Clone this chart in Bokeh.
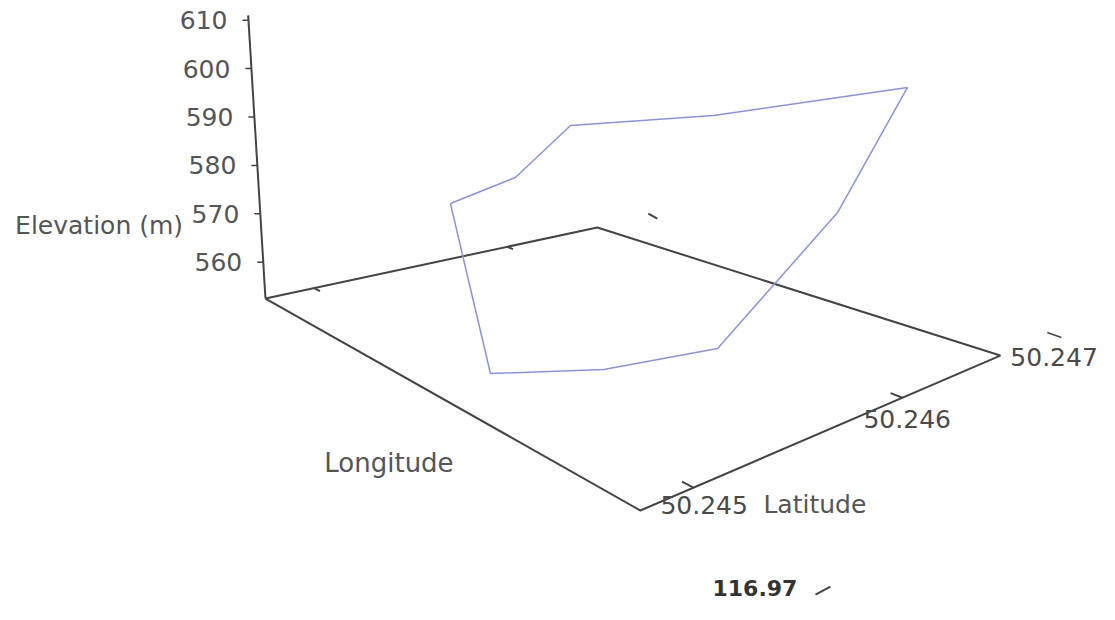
import numpy as np
from bokeh.plotting import figure
from bokeh.models import Range1d
from bokeh.embed import file_html
from bokeh.resources import INLINE
from bokeh.core.properties import value

# ---- data: recorded track (closed loop) ----
longitude = [116.969413, 116.969596, 116.969689, 116.970215, 116.970823,
             116.970511, 116.970518, 116.970203, 116.969899, 116.969413]
latitude = [50.245238, 50.245380, 50.245589, 50.245855, 50.246507,
            50.246343, 50.245465, 50.245221, 50.245019, 50.245238]
elevation = [575, 582, 592, 600, 609, 580, 562, 556, 553, 575]

elev_ticks = [560, 570, 580, 590, 600, 610]
lat_ticks = [50.245, 50.246, 50.247]
lat_tick_labels = ["50.245", "50.246", "50.247"]
lon_tick_label = "116.97"

# ---- 3D scene (view) ----
LON0, LON1 = 116.9690, 116.9710
LAT0, LAT1 = 50.244852, 50.247
Z0, Z1 = 552.5, 611.0
LA, LB, LC = 0.994, 0.147, 0.568          # perspective along latitude
A = np.array([265., 298.]); B = np.array([597., 227.])
C = np.array([1000., 355.]); D = np.array([640., 510.])
ZPX = 4.84; LEAN = 0.061

def lat_t(lat):
    u = (np.asarray(lat, float) - 50.245) / 0.001
    return (LA * u + LB) / (LC * u + 1)

def proj(lon, lat, z):
    s = (np.asarray(lon, float) - LON0) / (LON1 - LON0)
    t = lat_t(lat)
    x = A[0]*(1-s)*(1-t) + B[0]*(1-s)*t + D[0]*s*(1-t) + C[0]*s*t
    y = A[1]*(1-s)*(1-t) + B[1]*(1-s)*t + D[1]*s*(1-t) + C[1]*s*t
    rise = (np.asarray(z, float) - Z0) * ZPX
    return x - LEAN * rise, y - rise

AX = "#444444"
TXT = "#555555"
FONT = value("DejaVu Sans")

p = figure(width=1099, height=604, x_range=Range1d(0, 1099), y_range=Range1d(604, 0),
           toolbar_location=None, output_backend="svg", min_border=0)
p.axis.visible = False
p.grid.visible = False
p.outline_line_color = None

# floor box edges
corners = [(LON0, LAT0), (LON0, LAT1), (LON1, LAT1), (LON1, LAT0), (LON0, LAT0)]
cx, cy = proj([c[0] for c in corners], [c[1] for c in corners], [Z0]*5)
p.line(cx, cy, line_color=AX, line_width=2)

# vertical (elevation) axis
vx, vy = proj([LON0, LON0], [LAT0, LAT0], [Z0, Z1])
p.line(vx, vy, line_color=AX, line_width=2)
tx, ty = proj([LON0]*len(elev_ticks), [LAT0]*len(elev_ticks), elev_ticks)
p.segment(x0=tx, y0=ty, x1=tx - 6, y1=ty, line_color=AX, line_width=1.5)
p.text(x=tx - 21, y=ty, text=[str(v) for v in elev_ticks], text_align="right",
       text_baseline="middle", text_font=FONT, text_font_size="25px", text_color=TXT)
ex, ey = proj([LON0], [LAT0], [567.5])
p.text(x=ex - 78, y=ey, text=["Elevation (m)"], text_align="right", text_baseline="middle",
       text_font=FONT, text_font_size="25px", text_color=TXT)

# latitude ticks (on both lat-edges, pointing inward)
lt = lat_ticks[:2]
fx0, fy0 = proj([LON1]*2, lt, [Z0]*2)
fx1, fy1 = proj([LON1 - 0.00006]*2, lt, [Z0]*2)
p.segment(x0=fx0, y0=fy0, x1=fx1, y1=fy1, line_color=AX, line_width=2)
bx0, by0 = proj([LON0]*2, lt, [Z0]*2)
bx1, by1 = proj([LON0 + 0.00003]*2, lt, [Z0]*2)
p.segment(x0=bx0, y0=by0, x1=bx1, y1=by1, line_color=AX, line_width=2)

lx, ly = proj([LON1]*3, lat_ticks, [Z0]*3)
off_x = np.array([-33, -39, 10]); off_y = np.array([17, 21, 1])
p.text(x=lx + off_x, y=ly + off_y, text=lat_tick_labels, text_align="left",
       text_baseline="middle", text_font=FONT, text_font_size="25px", text_color="#4a4a4a")
# stray tick near 50.247
sx, sy = proj([LON1], [LAT1], [Z0])
p.segment(x0=sx + 47, y0=sy - 23, x1=sx + 61, y1=sy - 18, line_color=AX, line_width=1.5)

# axis titles
p.text(x=lx[0] + 70, y=ly[0] + 17, text=["Latitude"], text_align="left", text_baseline="middle",
       text_font=FONT, text_font_size="25px", text_color=TXT)
mx, my = proj([(LON0 + LON1) / 2], [LAT0], [Z0])
p.text(x=mx - 64, y=my + 58, text=["Longitude"], text_align="center", text_baseline="middle",
       text_font=FONT, text_font_size="26px", text_color=TXT)

# longitude tick label (drawn below the scene)
dx, dy = proj([LON1], [LAT0], [Z0])
p.text(x=dx + 72, y=dy + 77, text=[lon_tick_label], text_align="left", text_baseline="middle",
       text_font=FONT, text_font_size="22px", text_font_style="bold", text_color="#333333")
p.segment(x0=dx + 175, y0=dy + 84, x1=dx + 190, y1=dy + 76, line_color=AX, line_width=2)
# stray small tick in the scene (near the far corner)
qx, qy = proj([LON0], [LAT1], [Z0])
p.segment(x0=qx + 51, y0=qy - 14, x1=qx + 60, y1=qy - 9, line_color=AX, line_width=2)

# the track
px, py = proj(longitude, latitude, elevation)
p.line(px, py, line_color="#8a93d9", line_width=1.5)

open("out.html", "w").write(file_html(p, INLINE))
